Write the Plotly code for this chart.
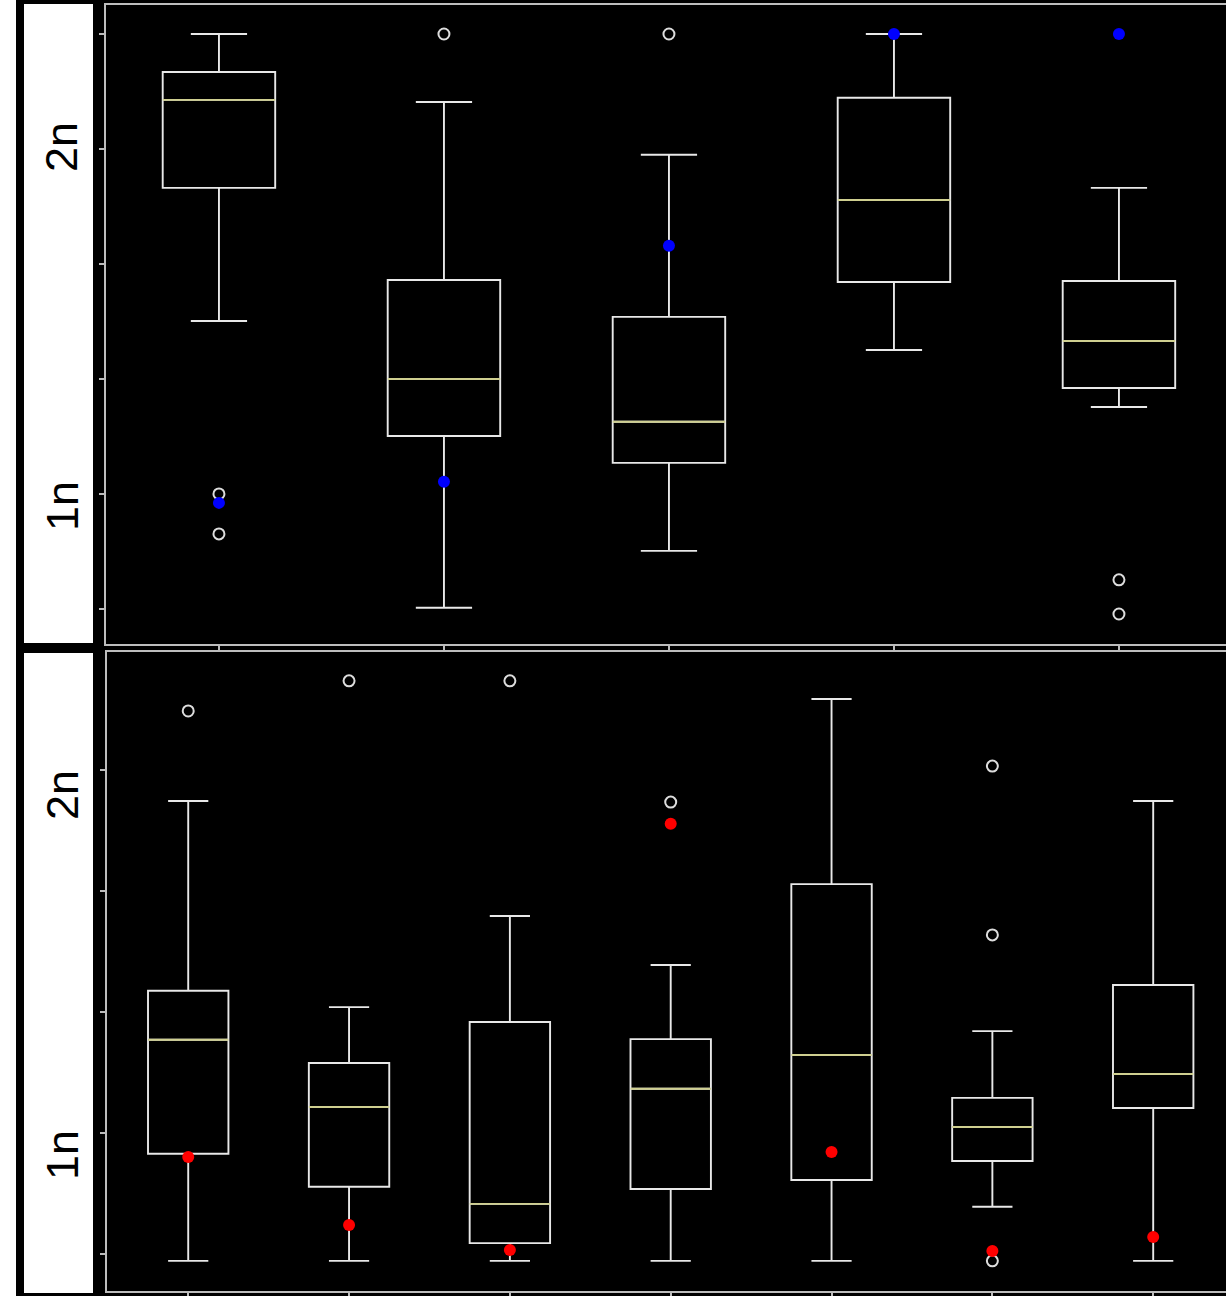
import plotly.graph_objects as go
from plotly.subplots import make_subplots

# ---------------- data (values in units of "n") ----------------
top_pos = [1, 2, 3, 4, 5]
top_upper = [2.333, 2.136, 1.983, 2.333, 1.887]
top_q3 = [2.223, 1.620, 1.513, 2.148, 1.617]
top_median = [2.142, 1.333, 1.209, 1.852, 1.443]
top_q1 = [1.887, 1.168, 1.090, 1.614, 1.307]
top_lower = [1.501, 0.670, 0.835, 1.417, 1.252]
top_out_x = [1, 1, 2, 3, 5, 5]
top_out_y = [1.000, 0.884, 2.333, 2.333, 0.751, 0.652]
top_dot_x = [1, 2, 3, 4, 5]
top_dot_y = [0.974, 1.035, 1.719, 2.333, 2.333]

bot_pos = [1, 2, 3, 4, 5, 6, 7]
bot_upper = [1.916, 1.348, 1.599, 1.464, 2.197, 1.282, 1.916]
bot_q3 = [1.393, 1.194, 1.307, 1.260, 1.687, 1.098, 1.409]
bot_median = [1.258, 1.073, 0.806, 1.123, 1.216, 1.018, 1.164]
bot_q1 = [0.944, 0.853, 0.698, 0.847, 0.872, 0.924, 1.070]
bot_lower = [0.649, 0.649, 0.649, 0.649, 0.649, 0.798, 0.649]
bot_out_x = [1, 2, 3, 4, 6, 6, 6]
bot_out_y = [2.164, 2.247, 2.247, 1.913, 2.012, 1.547, 0.649]
bot_dot_x = [1, 2, 3, 4, 5, 6, 7]
bot_dot_y = [0.935, 0.748, 0.679, 1.853, 0.949, 0.676, 0.715]

tick_vals = [2 / 3, 1, 4 / 3, 5 / 3, 2, 7 / 3]
row_labels = ["2n", "1n"]

# ---------------- styles ----------------
BOX_COL = "#e8e8e8"
MED_COL = "#cfcf90"
AX_COL = "#bdbdbd"

fig = make_subplots(rows=2, cols=1, vertical_spacing=0.0)


def add_panel(row, pos, upper, q3, med, q1, lower, ox, oy, dx, dy, dot_col):
    fig.add_trace(go.Box(
        x=pos, q1=q1, median=med, q3=q3, lowerfence=lower, upperfence=upper,
        width=0.5, whiskerwidth=0.5, boxpoints=False,
        line=dict(color=BOX_COL, width=1.9), fillcolor="rgba(0,0,0,0)",
        showlegend=False, hoverinfo="skip"), row=row, col=1)
    fig.add_trace(go.Box(
        x=pos, q1=med, median=med, q3=med, lowerfence=med, upperfence=med,
        width=0.5, whiskerwidth=0, boxpoints=False,
        line=dict(color=MED_COL, width=1.9), fillcolor="rgba(0,0,0,0)",
        showlegend=False, hoverinfo="skip"), row=row, col=1)
    fig.add_trace(go.Scatter(
        x=ox, y=oy, mode="markers",
        marker=dict(symbol="circle-open", size=11, color="#dddddd",
                    line=dict(width=2, color="#dddddd")),
        showlegend=False, hoverinfo="skip"), row=row, col=1)
    fig.add_trace(go.Scatter(
        x=dx, y=dy, mode="markers",
        marker=dict(symbol="circle", size=12, color=dot_col, line=dict(width=0)),
        showlegend=False, hoverinfo="skip"), row=row, col=1)


add_panel(1, top_pos, top_upper, top_q3, top_median, top_q1, top_lower,
          top_out_x, top_out_y, top_dot_x, top_dot_y, "#0000ff")
add_panel(2, bot_pos, bot_upper, bot_q3, bot_median, bot_q1, bot_lower,
          bot_out_x, bot_out_y, bot_dot_x, bot_dot_y, "#ff0000")

W, H = 1226, 1296
ML, MT, MB = 106, 5, 5
PW = W - ML
PH = H - MT - MB


def py(p):  # pixel y -> paper y
    return (H - MB - p) / PH


def px(p):  # pixel x -> paper x
    return (p - ML) / PW


axis_common = dict(showgrid=False, zeroline=False, showline=True, linecolor=AX_COL,
                   linewidth=1.5, ticks="outside", ticklen=5, tickwidth=1.5,
                   tickcolor=AX_COL, showticklabels=False)

fig.update_xaxes(**axis_common, mirror=True)
fig.update_yaxes(**axis_common, mirror=False, tickvals=tick_vals)

fig.update_xaxes(range=[0.498, 0.498 + PW / 225], tickvals=top_pos,
                 domain=[0, 1], row=1, col=1)
fig.update_xaxes(range=[0.495, 0.495 + (PW - 1) / 160.83], tickvals=bot_pos,
                 domain=[px(107), 1], row=2, col=1)
fig.update_yaxes(range=[0.565, 2.417], domain=[py(644), 1], row=1, col=1)
fig.update_yaxes(range=[0.566, 2.3264], domain=[0, py(652)], row=2, col=1)

shapes = [
    # white strip at far left
    dict(type="rect", xref="paper", yref="paper", x0=px(0), x1=px(16),
         y0=py(H + 2), y1=py(-2), fillcolor="white", line=dict(width=0)),
    # label panels
    dict(type="rect", xref="paper", yref="paper", x0=px(24), x1=px(93),
         y0=py(643), y1=py(4), fillcolor="white", line=dict(width=0)),
    dict(type="rect", xref="paper", yref="paper", x0=px(24), x1=px(93),
         y0=py(1293), y1=py(653), fillcolor="white", line=dict(width=0)),
]

annotations = []
for label, ypix in [("2n", 147), ("1n", 506), ("2n", 795), ("1n", 1155)]:
    annotations.append(dict(text=label, xref="paper", yref="paper",
                            x=px(62), y=py(ypix), xanchor="center", yanchor="middle",
                            showarrow=False, textangle=-90,
                            font=dict(family="Liberation Sans, Arial", size=45,
                                      color="black")))

fig.update_layout(width=W, height=H, margin=dict(l=ML, r=0, t=MT, b=MB),
                  paper_bgcolor="black", plot_bgcolor="black",
                  boxmode="overlay", shapes=shapes, annotations=annotations)

fig.write_html("out.html")
